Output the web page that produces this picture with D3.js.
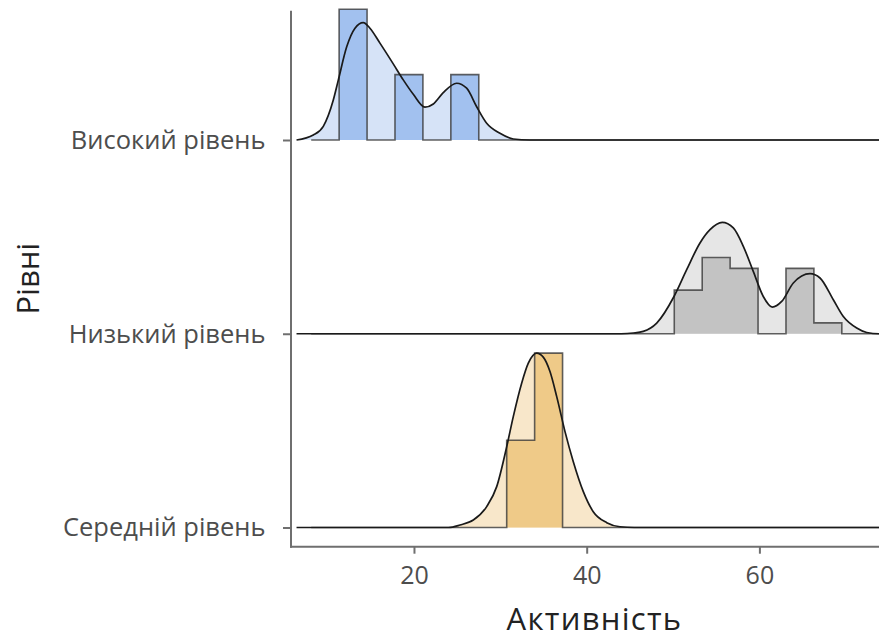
<!DOCTYPE html>
<html>
<head>
<meta charset="utf-8">
<title>Рівні активності</title>
<script src="https://cdn.jsdelivr.net/npm/d3@7"></script>
<style>
  body { margin: 0; background: #fff; }
  text { font-family: "Open Sans", sans-serif; }
</style>
</head>
<body>
<div id="chart"></div>
<script>
// рівні, зверху вниз
const levels = ['Високий рівень', 'Низький рівень', 'Середній рівень'];
const xTicks = [20, 40, 60];

// гістограма: межі бінів і кількості
const binStart = 8.1;
const binWidth = 3.234;
const countsHigh = [0, 12, 0, 6, 0, 6, 0, 0, 0, 0, 0, 0, 0, 0, 0, 0, 0, 0, 0, 0, 0];
const countsLow  = [0, 0, 0, 0, 0, 0, 0, 0, 0, 0, 0, 0, 0, 4, 7, 6, 0, 6, 1, 0, 0];
const countsMid  = [0, 0, 0, 0, 0, 0, 0, 8, 16, 0, 0, 0, 0, 0, 0, 0, 0, 0, 0, 0, 0];

// щільність (x, density)
const densHigh = [[6.4,0],[8.34,0.004],[9.5,0.011],[10.65,0.032],[11.23,0.048],[12.21,0.075],
  [13.17,0.09],[14.13,0.0945],[14.9,0.09],[16.06,0.078],[17.6,0.0613],[18.76,0.0484],
  [19.92,0.0368],[21.27,0.0264],[22.24,0.029],[23.39,0.0381],[24.94,0.0457],[26.1,0.0417],
  [27.26,0.0268],[28.42,0.0135],[29.96,0.0054],[31.5,0.0008],[33.4,0],[76.5,0]];
const densLow = [[6.4,0],[44.0,0],[45.4,0.0006],[46.55,0.0019],[48.11,0.0086],[50.11,0.030],
  [51.58,0.0516],[53.12,0.0731],[54.28,0.0838],[55.7,0.0897],[56.98,0.0852],[58.14,0.0704],
  [59.29,0.0502],[60.45,0.030],[61.49,0.0215],[62.58,0.026],[63.93,0.0409],[65.86,0.0484],
  [67.02,0.0449],[68.56,0.0274],[69.72,0.0139],[71.27,0.0046],[72.43,0.001],[73.85,0],[76.5,0]];
const densMid = [[6.4,0],[24.0,0],[25.33,0.002],[26.87,0.006],[28.42,0.0168],[29.58,0.0329],
  [30.74,0.0651],[31.5,0.0893],[32.47,0.1162],[33.24,0.1323],[34.21,0.1404],[34.97,0.1372],
  [35.75,0.1256],[36.53,0.1054],[37.49,0.0772],[38.45,0.053],[39.61,0.0289],[40.76,0.0127],
  [42.32,0.0039],[43.86,0.0006],[45.5,0],[76.5,0]];

const groups = [
  { level: levels[0], counts: countsHigh, dens: densHigh, light: '#d6e3f7', dark: '#a2c1ef' },
  { level: levels[1], counts: countsLow,  dens: densLow,  light: '#e6e6e6', dark: '#c3c3c3' },
  { level: levels[2], counts: countsMid,  dens: densMid,  light: '#f8e7ca', dark: '#efca88' }
];

const width = 879, height = 639;
// панель обрізана праворуч, як на оригіналі
const margin = { top: 10.7, left: 291, right: 898, bottom: 546.7 };

const svg = d3.select('#chart').append('svg')
  .attr('width', width)
  .attr('height', height);

const x = d3.scaleLinear()
  .domain([5.76, 76.05])
  .range([margin.left, margin.right]);

const y = d3.scalePoint()
  .domain(levels)
  .range([140, 527.5]);

const step = y.step();
const ridgeScale = 0.9;

const maxCount = d3.max(groups, g => d3.max(g.counts));
const maxDens = d3.max(groups, g => d3.max(g.dens, d => d[1]));
const hCount = d3.scaleLinear().domain([0, maxCount]).range([0, step * ridgeScale]);
const hDens = d3.scaleLinear().domain([0, maxDens]).range([0, step * ridgeScale]);

svg.append('defs').append('clipPath').attr('id', 'panel')
  .append('rect')
  .attr('x', margin.left).attr('y', 0)
  .attr('width', margin.right - margin.left)
  .attr('height', margin.bottom);

const plot = svg.append('g').attr('clip-path', 'url(#panel)');

groups.forEach(g => {
  const base = y(g.level);
  const area = d3.area()
    .x(d => x(d[0]))
    .y0(base)
    .y1(d => base - hDens(d[1]))
    .curve(d3.curveMonotoneX);
  const line = d3.line()
    .x(d => x(d[0]))
    .y(d => base - hDens(d[1]))
    .curve(d3.curveMonotoneX);

  // ступінчастий контур гістограми
  const steps = [];
  g.counts.forEach((c, i) => {
    const x0 = binStart + i * binWidth;
    steps.push([x0, c], [x0 + binWidth, c]);
  });
  steps.unshift([binStart, 0]);
  steps.push([binStart + g.counts.length * binWidth, 0]);
  const histLine = d3.line()
    .x(d => x(d[0]))
    .y(d => base - hCount(d[1]));

  const gg = plot.append('g');
  gg.append('path').attr('d', area(g.dens)).attr('fill', g.light);
  gg.append('path').attr('d', histLine(steps) + 'Z')
    .attr('fill', g.dark).attr('stroke', 'none');
  gg.append('path').attr('d', histLine(steps))
    .attr('fill', 'none')
    .attr('stroke', '#3a3a3a').attr('stroke-opacity', 0.8)
    .attr('stroke-width', 1.6);
  gg.append('path').attr('d', line(g.dens))
    .attr('fill', 'none')
    .attr('stroke', '#1a1a1a')
    .attr('stroke-width', 1.7);
});

// осі
const axisColor = '#6f6f6f';
svg.append('line')
  .attr('x1', margin.left).attr('x2', margin.left)
  .attr('y1', margin.top).attr('y2', margin.bottom + 1)
  .attr('stroke', axisColor).attr('stroke-width', 2);
svg.append('line')
  .attr('x1', margin.left - 1).attr('x2', margin.right)
  .attr('y1', margin.bottom).attr('y2', margin.bottom)
  .attr('stroke', axisColor).attr('stroke-width', 2);

const xAxis = svg.append('g')
  .attr('transform', `translate(0,${margin.bottom})`)
  .call(d3.axisBottom(x).tickValues(xTicks).tickSize(7).tickSizeOuter(0).tickPadding(12.5));
xAxis.select('.domain').remove();
xAxis.selectAll('line').attr('stroke', axisColor).attr('stroke-width', 2);
xAxis.selectAll('text').attr('fill', '#4d4d4d').style('font-size', '25px');

const yAxis = svg.append('g')
  .attr('transform', `translate(${margin.left},0)`)
  .call(d3.axisLeft(y).tickSize(8).tickPadding(17.5));
yAxis.select('.domain').remove();
yAxis.selectAll('line').attr('stroke', axisColor).attr('stroke-width', 2);
yAxis.selectAll('text').attr('fill', '#4d4d4d').attr('dy', '0.33em').style('font-size', '25.5px');

svg.append('text')
  .attr('x', (margin.left + margin.right) / 2)
  .attr('y', 630)
  .attr('text-anchor', 'middle')
  .style('font-size', '31px')
  .style('letter-spacing', '1.3px')
  .attr('fill', '#222')
  .text('Активність');

svg.append('text')
  .attr('transform', `translate(39,${(margin.top + margin.bottom) / 2}) rotate(-90)`)
  .attr('text-anchor', 'middle')
  .style('font-size', '31px')
  .attr('fill', '#222')
  .text('Рівні');
</script>
</body>
</html>
